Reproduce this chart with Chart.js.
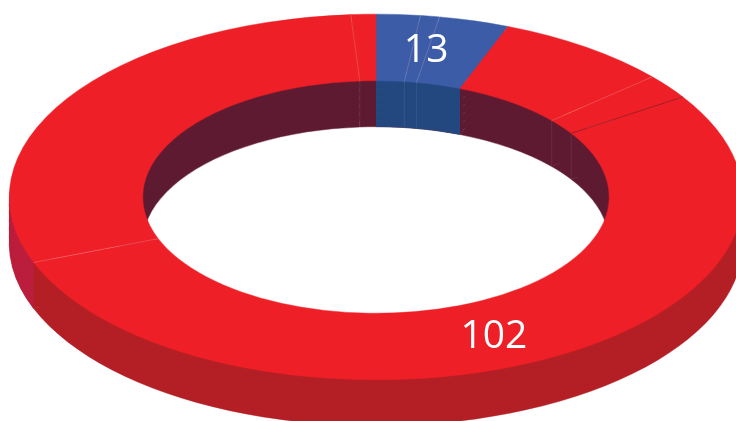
<!DOCTYPE html>
<html lang="en">
<head>
	<meta charset="UTF-8">
	<title>Doughnut</title>
	<script src="https://cdn.jsdelivr.net/npm/chart.js"></script>
	<style>
		html, body { margin: 0; width: 736px; height: 421px; overflow: hidden; background: #fff; }
		#zonagrafico { position: absolute; left: 0; top: 0; width: 752px; height: 752px; }
	</style>
</head>
<body>
	<div id="zonagrafico"><canvas id="myChart" width="752" height="752"></canvas></div>
	<script type="text/javascript">
		// Values, clockwise from the top
		const categories = ['A', 'B', 'C', 'D', 'E', 'F', 'G', 'H'];
		const seriesValues = [3.7, 1.6, 5.9, 14.75, 4.2, 102, 56.8, 2.1];
		const shownLabels = ['13', '102'];

		// Colours
		const topColors = ['#3d5ca8', '#3d5ca8', '#3d5ca8', '#ee1f26', '#ee1f26', '#ee1f26', '#ee1f26', '#ee1f26'];
		const seamColors = [null, 'rgba(255,255,255,0.22)', 'rgba(255,255,255,0.22)', null, 'rgba(255,255,255,0.25)', 'rgba(110,30,40,0.7)', 'rgba(255,255,255,0.25)', 'rgba(255,255,255,0.22)'];
		const innerWallRed = '#5e1a31';
		const innerWallBlue = '#234880';
		const outerWallRed = '#b31f25';
		const outerWallCrimson = '#bb1e3c';

		// Tilt of the ring on the page
		const centerY = 197;
		const squash = 183 / 367;
		const depth = 46;
		const wallThickness = 24;
		const wallStep = 8; // few copies only, stacked antialiased edges leave streaks
		const labelSpots = [{ deg: 9.6, r: 0.82 }, { deg: 156.9, r: 0.82 }];

		function drawArc(ctx, arc, color, inner, outer) {
			const keep = { o: arc.options, i: arc.innerRadius, r: arc.outerRadius };
			arc.options = Object.assign({}, keep.o, { backgroundColor: color, borderColor: color });
			arc.innerRadius = inner;
			arc.outerRadius = outer;
			arc.draw(ctx);
			arc.options = keep.o;
			arc.innerRadius = keep.i;
			arc.outerRadius = keep.r;
		}

		const tiltPlugin = {
			id: 'tilt',
			beforeDatasetsDraw(chart) {
				const ctx = chart.ctx;
				const arcs = chart.getDatasetMeta(0).data;
				const cx = arcs[0].x, cy = arcs[0].y;
				const inner = arcs[0].innerRadius, outer = arcs[0].outerRadius;
				const place = (drop) => ctx.setTransform(1, 0, 0, squash, 0, centerY + drop - cy * squash);

				// one wall colour, optionally only between two x positions so slice edges stay vertical
				const paintWall = (color, from, to, left, right) => {
					ctx.save();
					if (left !== undefined) {
						ctx.setTransform(1, 0, 0, 1, 0, 0);
						ctx.beginPath();
						ctx.rect(left, 0, right - left, chart.height);
						ctx.clip();
					}
					for (let k = depth; k > 0; k -= wallStep) {
						place(k);
						arcs.forEach((arc) => drawArc(ctx, arc, color, from, to));
					}
					ctx.restore();
				};

				ctx.save();
				paintWall(outerWallRed, outer - wallThickness, outer);
				paintWall(outerWallCrimson, outer - wallThickness, outer, 0, cx + outer * Math.cos(arcs[6].startAngle));
				paintWall(innerWallRed, inner, inner + wallThickness);
				paintWall(innerWallBlue, inner, inner + wallThickness, cx + inner * Math.cos(arcs[0].startAngle), cx + inner * Math.cos(arcs[2].endAngle));

				// top face
				place(0);
				arcs.forEach((arc, i) => drawArc(ctx, arc, topColors[i], inner, outer));
				ctx.setTransform(1, 0, 0, 1, 0, 0);

				// seams between slices
				const mapY = (y) => centerY + (y - cy) * squash;
				arcs.forEach((arc, i) => {
					if (!seamColors[i]) return;
					const c = Math.cos(arc.startAngle), s = Math.sin(arc.startAngle);
					const ix = cx + inner * c, iy = mapY(cy + inner * s);
					ctx.lineWidth = 0.8;
					ctx.strokeStyle = seamColors[i];
					ctx.beginPath();
					ctx.moveTo(ix, iy);
					ctx.lineTo(cx + outer * c, mapY(cy + outer * s));
					ctx.stroke();
					if (s < 0) {
						ctx.strokeStyle = 'rgba(255,255,255,0.1)';
						ctx.beginPath();
						ctx.moveTo(ix, iy);
						ctx.lineTo(ix, iy + depth);
						ctx.stroke();
					}
				});

				// value labels
				ctx.fillStyle = '#fff';
				ctx.font = '39px "Open Sans"';
				ctx.textAlign = 'center';
				ctx.textBaseline = 'middle';
				shownLabels.forEach((text, i) => {
					const a = labelSpots[i].deg * Math.PI / 180, r = labelSpots[i].r * outer;
					ctx.fillText(text, cx + r * Math.sin(a), mapY(cy - r * Math.cos(a)) + 2);
				});
				ctx.restore();
				return false;
			}
		};

		new Chart(document.getElementById('myChart'), {
			type: 'doughnut',
			data: {
				labels: categories,
				datasets: [{ data: seriesValues, backgroundColor: topColors, borderColor: topColors, borderWidth: 0.6 }]
			},
			options: {
				responsive: false,
				animation: false,
				cutout: '63.6%',
				layout: { padding: 9 },
				plugins: { legend: { display: false }, tooltip: { enabled: false } }
			},
			plugins: [tiltPlugin]
		});
	</script>
</body>
</html>
